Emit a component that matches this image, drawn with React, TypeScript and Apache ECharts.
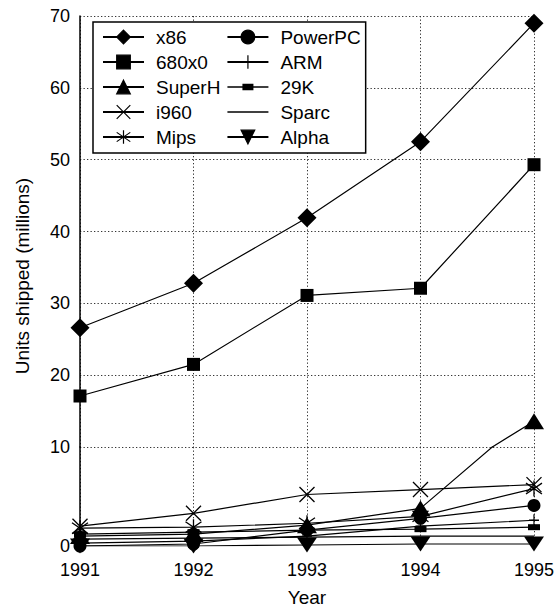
import React, { useEffect, useRef } from 'react';
import * as echarts from 'echarts';

// ---------- data ----------
const years = ['1991', '1992', '1993', '1994', '1995'];
const seriesNames = ['x86', '680x0', 'SuperH', 'i960', 'Mips', 'PowerPC', 'ARM', '29K', 'Sparc', 'Alpha'];

const x86 = [26.6, 32.8, 41.9, 52.5, 69.0];
const m680x0 = [17.1, 21.5, 31.1, 32.1, 49.3];
const superH = [1.0, 1.2, 2.1, 3.8, 13.6];
const i960 = [2.0, 3.3, 5.2, 5.7, 6.2];
const mips = [1.8, 1.9, 2.3, 3.0, 5.8];
const powerPC = [0.0, 0.2, 1.6, 2.8, 4.1];
const arm = [0.3, 0.5, 1.0, 2.0, 2.6];
const k29 = [1.2, 1.4, 1.6, 1.7, 1.9];
const sparc = [0.7, 0.8, 0.9, 1.0, 1.0];
const alpha = [0.0, 0.0, 0.1, 0.2, 0.2];

const seriesValues = [x86, m680x0, superH, i960, mips, powerPC, arm, k29, sparc, alpha];

// y axis: lower band 0..10 is drawn stretched, upper band 10..70
const lowBand = [0, 10];
const highBand = [10, 70];
const yStep = 10;

// ---------- styles ----------
const FONT = '"Liberation Sans", Arial, Helvetica, sans-serif';
const markers: { symbol: string; size: number | number[]; stroke?: boolean }[] = [
  { symbol: 'diamond', size: 19 },
  { symbol: 'rect', size: 13 },
  { symbol: 'triangle', size: [20, 16] },
  { symbol: 'path://M0,0L10,10M10,0L0,10', size: 15, stroke: true },
  { symbol: 'path://M5,0L5,10M0.6,1.6L9.4,8.4M9.4,1.6L0.6,8.4', size: 16, stroke: true },
  { symbol: 'circle', size: 13 },
  { symbol: 'path://M5,0L5,10M0,5L10,5', size: [10, 12], stroke: true },
  { symbol: 'rect', size: [12, 6] },
  { symbol: 'none', size: 0 },
  { symbol: 'path://M0,0L20,0L10,15Z', size: [20, 15] },
];

// legend icons that differ from the default (line + square marker)
const legendIcons: Record<string, string> = {
  Sparc: 'path://M0,0H41V1.3H0Z',
  '29K': 'path://M0,0H15V-2.6H26V0H41V1.3H26V3.9H15V1.3H0Z',
};

const LEFT = 80;
const RIGHT_X = 534;
const TOP_Y = 16;
const MID_Y = 447;
const BOT_Y = 546;

export default function App() {
  const ref = useRef<HTMLDivElement>(null);

  useEffect(() => {
    if (!ref.current) return;
    const chart = echarts.init(ref.current, undefined, { renderer: 'svg' });

    const dotted = { color: '#333', width: 1, type: [1.3, 2.2] as any };

    const makeSeries = (g: number) =>
      seriesNames.map((name, i) => ({
        type: 'line',
        name,
        xAxisIndex: g,
        yAxisIndex: g,
        data: seriesValues[i],
        symbol: markers[i].symbol,
        symbolSize: markers[i].size,
        showSymbol: markers[i].symbol !== 'none',
        showAllSymbol: true,
        clip: true,
        silent: true,
        lineStyle: { color: '#000', width: 1.2 },
        itemStyle: {
          color: '#000',
          borderColor: '#000',
          borderWidth: markers[i].stroke ? 1.3 : 0,
        },
        emphasis: { disabled: true },
      }));

    const option: any = {
      animation: false,
      color: ['#000'],
      textStyle: { fontFamily: FONT, color: '#000' },
      grid: [
        { left: LEFT, top: TOP_Y, width: RIGHT_X - LEFT, height: MID_Y - TOP_Y, containLabel: false },
        { left: LEFT, top: MID_Y, width: RIGHT_X - LEFT, height: BOT_Y - MID_Y, containLabel: false },
      ],
      xAxis: [
        {
          type: 'category',
          gridIndex: 0,
          data: years,
          boundaryGap: false,
          axisLine: { show: false },
          axisTick: { show: false },
          axisLabel: { show: false },
          splitLine: { show: true, lineStyle: dotted },
        },
        {
          type: 'category',
          gridIndex: 1,
          data: years,
          boundaryGap: false,
          axisLine: { show: false },
          axisTick: { show: false },
          axisLabel: { show: true, fontSize: 18, fontFamily: FONT, color: '#000', margin: 15 },
          splitLine: { show: true, lineStyle: dotted },
          name: 'Year',
          nameLocation: 'middle',
          nameGap: 42,
          nameTextStyle: { fontSize: 19, fontFamily: FONT, color: '#000' },
        },
      ],
      yAxis: [
        {
          type: 'value',
          gridIndex: 0,
          min: highBand[0],
          max: highBand[1],
          interval: yStep,
          axisLine: { show: true, lineStyle: { color: '#000', width: 1.5 } },
          axisTick: { show: false },
          axisLabel: { fontSize: 18, fontFamily: FONT, color: '#000', margin: 10 },
          splitLine: { show: true, lineStyle: dotted },
        },
        {
          type: 'value',
          gridIndex: 1,
          min: lowBand[0],
          max: lowBand[1],
          interval: yStep,
          axisLine: { show: true, lineStyle: { color: '#000', width: 1.5 } },
          axisTick: { show: false },
          axisLabel: {
            fontSize: 18,
            fontFamily: FONT,
            color: '#000',
            margin: 10,
            formatter: (v: number) => (v === lowBand[0] ? String(v) : ''),
          },
          splitLine: { show: false },
        },
      ],
      legend: {
        orient: 'vertical',
        left: 93,
        top: 22,
        height: 122,
        padding: [5.5, 5, 6.5, 9],
        itemGap: 6,
        itemWidth: 41,
        itemHeight: 17,
        backgroundColor: '#fff',
        borderColor: '#000',
        borderWidth: 1.5,
        selectedMode: false,
        itemStyle: { borderWidth: 1.2 },
        textStyle: { fontSize: 19, fontFamily: FONT, color: '#000', width: 80, padding: [0, 0, 0, 7] },
        data: seriesNames.map((n) =>
          legendIcons[n]
            ? { name: n, icon: legendIcons[n], itemStyle: { borderWidth: 0 } }
            : { name: n }
        ),
        z: 10,
      },
      graphic: [
        {
          type: 'text',
          x: 22,
          y: 276,
          rotation: Math.PI / 2,
          style: {
            text: 'Units shipped (millions)',
            fontSize: 19,
            fontFamily: FONT,
            fill: '#000',
            align: 'center',
            verticalAlign: 'middle',
          },
        },
      ],
      series: [...makeSeries(1), ...makeSeries(0)],
    };

    chart.setOption(option);
    return () => chart.dispose();
  }, []);

  return (
    <div
      ref={ref}
      style={{ position: 'fixed', left: 0, top: 0, width: 557, height: 609, background: '#fff' }}
    />
  );
}
